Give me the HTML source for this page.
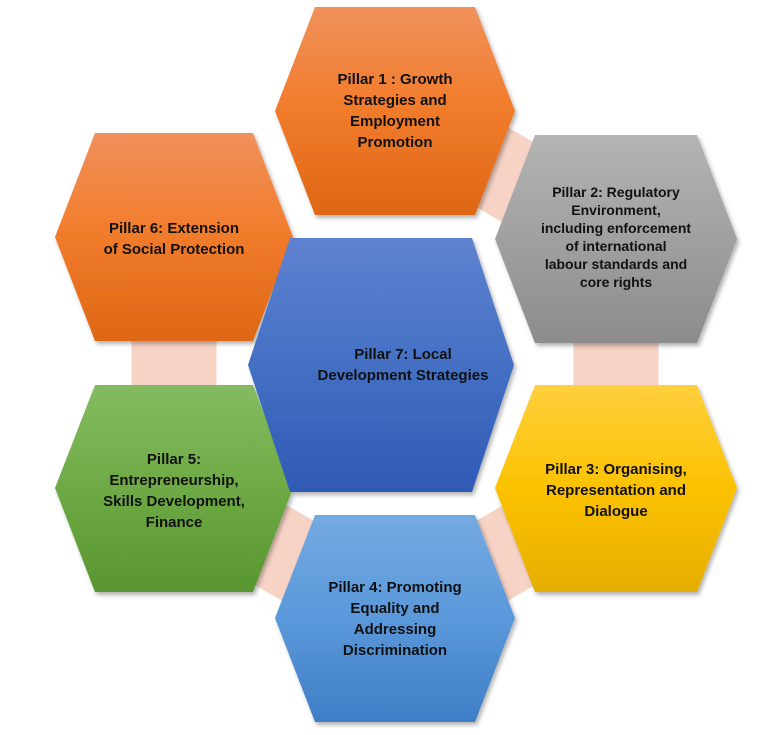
<!DOCTYPE html>
<html><head><style>
html,body{margin:0;padding:0;background:#fff;}
svg{display:block}
text{font-family:"Liberation Sans",Arial,sans-serif;font-weight:bold;font-size:15px;fill:#111;text-anchor:middle}
</style></head><body>
<svg width="782" height="735" viewBox="0 0 782 735" xmlns="http://www.w3.org/2000/svg">
<defs>
<linearGradient id="or" x1="0" y1="0" x2="0" y2="1"><stop offset="0" stop-color="#f0915c"/><stop offset="0.45" stop-color="#f27d2e"/><stop offset="1" stop-color="#de6714"/></linearGradient>
<linearGradient id="gr" x1="0" y1="0" x2="0" y2="1"><stop offset="0" stop-color="#b4b4b4"/><stop offset="1" stop-color="#8c8c8c"/></linearGradient>
<linearGradient id="ye" x1="0" y1="0" x2="0" y2="1"><stop offset="0" stop-color="#ffcf3e"/><stop offset="0.5" stop-color="#fcc200"/><stop offset="1" stop-color="#e6ae00"/></linearGradient>
<linearGradient id="bl" x1="0" y1="0" x2="0" y2="1"><stop offset="0" stop-color="#75aae2"/><stop offset="0.5" stop-color="#5a98da"/><stop offset="1" stop-color="#3f7ec6"/></linearGradient>
<linearGradient id="gn" x1="0" y1="0" x2="0" y2="1"><stop offset="0" stop-color="#84bb62"/><stop offset="0.5" stop-color="#6eaa45"/><stop offset="1" stop-color="#589630"/></linearGradient>
<linearGradient id="cb" x1="0" y1="0" x2="0" y2="1"><stop offset="0" stop-color="#5f82d0"/><stop offset="0.5" stop-color="#4470c4"/><stop offset="1" stop-color="#2f5ab4"/></linearGradient>
<filter id="sh" x="-10%" y="-10%" width="130%" height="130%"><feDropShadow dx="2" dy="3" stdDeviation="2" flood-color="#000" flood-opacity="0.3"/></filter>
</defs>
<polyline points="395,111 616,239 616,488 395,618 174,488 174,237" fill="none" stroke="#f7d3c6" stroke-width="85" stroke-linejoin="miter"/>
<g filter="url(#sh)">
<polygon points="275,111 315,7 475,7 515,111 475,215 315,215" fill="url(#or)"/>
<polygon points="495,239 535,135 697,135 737,239 697,343 535,343" fill="url(#gr)"/>
<polygon points="495,488 535,385 697,385 737,488 697,592 535,592" fill="url(#ye)"/>
<polygon points="275,618 315,515 475,515 515,618 475,722 315,722" fill="url(#bl)"/>
<polygon points="55,488 95,385 253,385 293,488 253,592 95,592" fill="url(#gn)"/>
<polygon points="55,237 95,133 253,133 293,237 253,341 95,341" fill="url(#or)"/>
<polygon points="248,365 290,238 472,238 514,365 472,492 290,492" fill="url(#cb)"/>
</g>
<text x="395" y="84">Pillar 1 : Growth</text>
<text x="395" y="105">Strategies and</text>
<text x="395" y="126">Employment</text>
<text x="395" y="147">Promotion</text>
<text x="616" y="197" style="font-size:14px">Pillar 2: Regulatory</text>
<text x="616" y="215" style="font-size:14px">Environment,</text>
<text x="616" y="233" style="font-size:14px">including enforcement</text>
<text x="616" y="251" style="font-size:14px">of international</text>
<text x="616" y="269" style="font-size:14px">labour standards and</text>
<text x="616" y="287" style="font-size:14px">core rights</text>
<text x="616" y="474">Pillar 3: Organising,</text>
<text x="616" y="495">Representation and</text>
<text x="616" y="516">Dialogue</text>
<text x="395" y="592">Pillar 4: Promoting</text>
<text x="395" y="613">Equality and</text>
<text x="395" y="634">Addressing</text>
<text x="395" y="655">Discrimination</text>
<text x="174" y="464">Pillar 5:</text>
<text x="174" y="485">Entrepreneurship,</text>
<text x="174" y="506">Skills Development,</text>
<text x="174" y="527">Finance</text>
<text x="174" y="233">Pillar 6: Extension</text>
<text x="174" y="254">of Social Protection</text>
<text x="403" y="359">Pillar 7: Local</text>
<text x="403" y="380">Development Strategies</text>
</svg>
</body></html>
